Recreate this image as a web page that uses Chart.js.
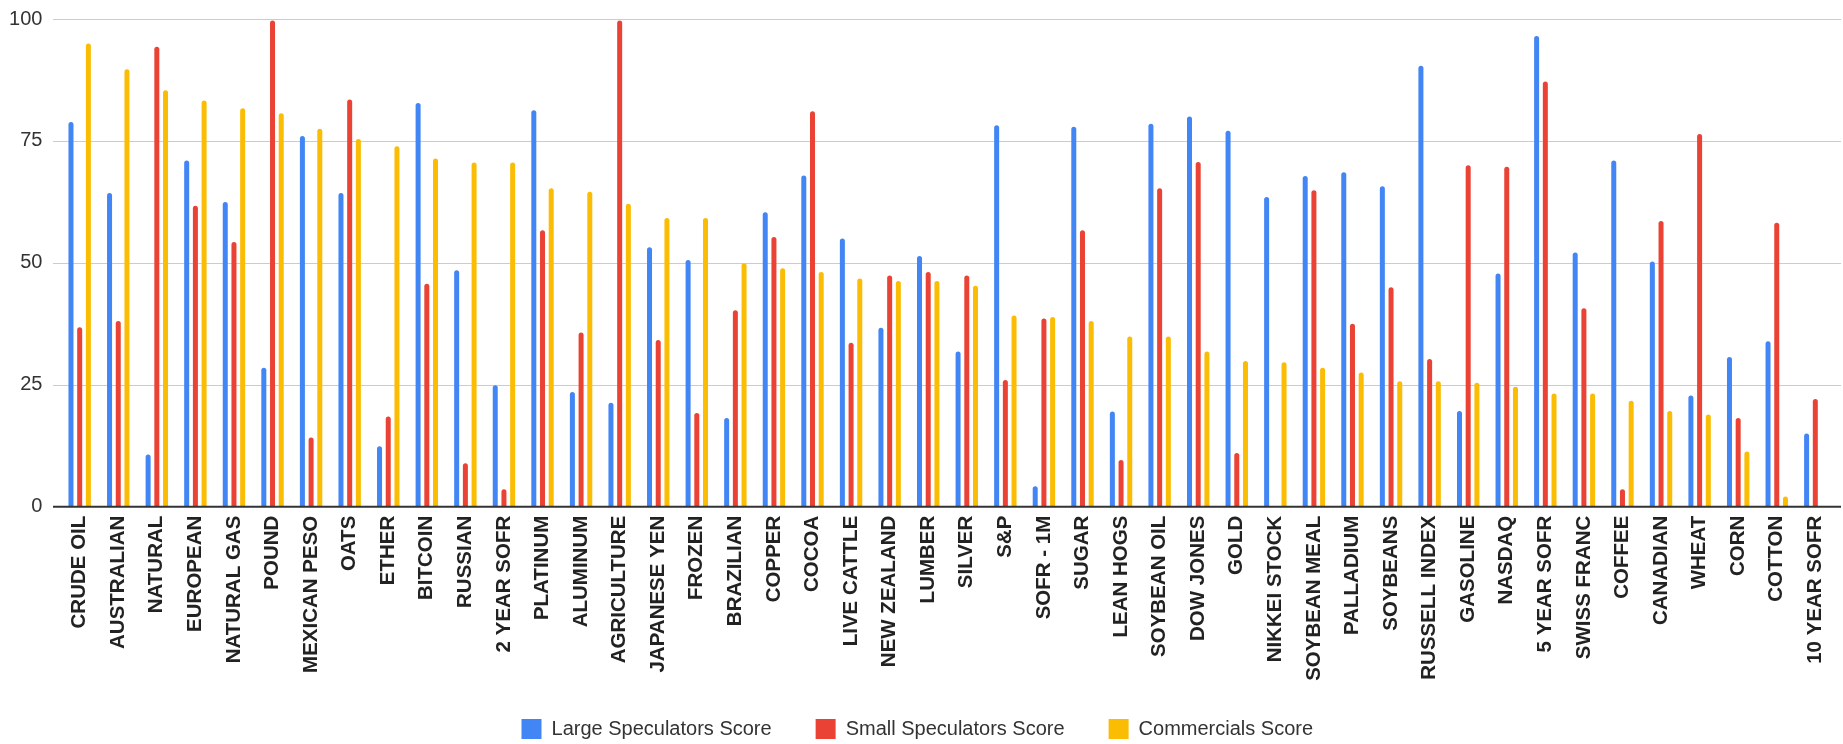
<!DOCTYPE html>
<html>
<head>
<meta charset="utf-8">
<script src="https://cdn.jsdelivr.net/npm/chart.js@4.4.1/dist/chart.umd.min.js"></script>
<style>
  html, body { margin: 0; padding: 0; background: #ffffff; }
  #wrap { width: 1843px; height: 744px; position: relative; }
</style>
</head>
<body>
<div id="wrap"><canvas id="c"></canvas></div>
<script>
const categories = ["CRUDE OIL","AUSTRALIAN","NATURAL","EUROPEAN","NATURAL GAS","POUND","MEXICAN PESO","OATS","ETHER","BITCOIN","RUSSIAN","2 YEAR SOFR","PLATINUM","ALUMINUM","AGRICULTURE","JAPANESE YEN","FROZEN","BRAZILIAN","COPPER","COCOA","LIVE CATTLE","NEW ZEALAND","LUMBER","SILVER","S&P","SOFR - 1M","SUGAR","LEAN HOGS","SOYBEAN OIL","DOW JONES","GOLD","NIKKEI STOCK","SOYBEAN MEAL","PALLADIUM","SOYBEANS","RUSSELL INDEX","GASOLINE","NASDAQ","5 YEAR SOFR","SWISS FRANC","COFFEE","CANADIAN","WHEAT","CORN","COTTON","10 YEAR SOFR"];

const largeSpeculators = [78.9,64.3,10.7,71.0,62.5,28.5,76.0,64.3,12.4,82.8,48.5,24.9,81.3,23.5,21.3,53.2,50.6,18.2,60.4,67.9,55.0,36.7,51.4,31.8,78.2,4.2,77.9,19.5,78.5,80.0,77.1,63.5,67.8,68.6,65.7,90.4,19.6,47.8,96.5,52.1,71.0,50.3,22.8,30.7,33.9,15.0];

const smallSpeculators = [36.8,38.1,94.3,61.7,54.3,99.7,14.2,83.5,18.5,45.7,8.9,3.6,56.7,35.7,99.7,34.2,19.2,40.3,55.3,81.1,33.6,47.4,48.1,47.4,26.0,38.6,56.7,9.6,65.3,70.7,11.0,0,64.9,37.5,45.0,30.3,70.0,69.7,87.2,40.7,3.6,58.6,76.4,18.2,58.2,22.1];

const commercials = [95.0,89.7,85.4,83.3,81.7,80.7,77.5,75.4,73.9,71.4,70.6,70.6,65.3,64.6,62.1,59.2,59.2,49.9,48.9,48.1,46.8,46.3,46.3,45.3,39.2,38.9,38.1,34.9,34.9,31.8,29.9,29.6,28.5,27.5,25.7,25.7,25.4,24.6,23.2,23.2,21.7,19.6,18.9,11.3,2.1,0];

const yTickValues = [0, 25, 50, 75, 100];
const seriesNames = ["Large Speculators Score", "Small Speculators Score", "Commercials Score"];

const FONT = "'Liberation Sans', Arial, Helvetica, sans-serif";

const gridPlugin = {
  id: 'gridExt',
  beforeDatasetsDraw(chart) {
    const {ctx, chartArea, scales} = chart;
    const x0 = chartArea.left - 7.4, x1 = chartArea.right + 6.4;
    ctx.save();
    ctx.strokeStyle = '#cccccc';
    ctx.lineWidth = 1;
    yTickValues.forEach(v => {
      if (v === 0) return;
      const y = Math.round(scales.y.getPixelForValue(v)) + 0.5;
      ctx.beginPath(); ctx.moveTo(x0, y); ctx.lineTo(x1, y); ctx.stroke();
    });
    ctx.restore();
  },
  afterDatasetsDraw(chart) {
    const {ctx, chartArea, scales} = chart;
    const x0 = chartArea.left - 7.4, x1 = chartArea.right + 6.4;
    const y = scales.y.getPixelForValue(0);
    ctx.save();
    ctx.strokeStyle = '#333333';
    ctx.lineWidth = 2;
    ctx.beginPath(); ctx.moveTo(x0, y); ctx.lineTo(x1, y); ctx.stroke();
    ctx.restore();
  }
};

const colors = ['#4285F4', '#EA4335', '#FBBC04'];
const seriesData = [largeSpeculators, smallSpeculators, commercials];

new Chart(document.getElementById('c'), {
  type: 'bar',
  data: {
    labels: categories,
    datasets: seriesNames.map((name, i) => ({
      label: name,
      data: seriesData[i],
      backgroundColor: colors[i],
      borderWidth: 0,
      borderRadius: {topLeft: 2.5, topRight: 2.5, bottomLeft: 0, bottomRight: 0},
      borderSkipped: false,
      categoryPercentage: 0.677,
      barPercentage: 0.575
    }))
  },
  options: {
    responsive: true,
    maintainAspectRatio: false,
    animation: false,
    devicePixelRatio: 1,
    layout: { padding: { top: 19, right: 8.4, left: 0, bottom: -5 } },
    plugins: {
      legend: {
        position: 'bottom',
        labels: {
          boxWidth: 20,
          boxHeight: 20,
          padding: 44,
          color: '#333333',
          font: { family: FONT, size: 20 }
        }
      },
      tooltip: { enabled: false }
    },
    scales: {
      x: {
        grid: { display: false, drawTicks: false },
        border: { display: false },
        ticks: {
          autoSkip: false,
          maxRotation: 90,
          minRotation: 90,
          padding: 9,
          color: '#222222',
          font: { family: FONT, size: 20.5, weight: 'bold' }
        },
        afterFit(scale) {
          scale.height = 168.3;
          scale.paddingLeft = 0; scale.paddingRight = 0;
          scale.paddingTop = 0; scale.paddingBottom = 0;
          scale._computeLabelArea = () => undefined;
        }
      },
      y: {
        min: 0,
        max: 100,
        grid: { display: false, drawTicks: false },
        border: { display: false },
        ticks: {
          stepSize: 25,
          padding: 18,
          color: '#333333',
          font: { family: FONT, size: 20 }
        },
        afterFit(scale) {
          scale.width = 60.4;
          scale.paddingLeft = 0; scale.paddingRight = 0;
          scale.paddingTop = 0; scale.paddingBottom = 0;
        }
      }
    }
  },
  plugins: [gridPlugin]
});
</script>
</body>
</html>
